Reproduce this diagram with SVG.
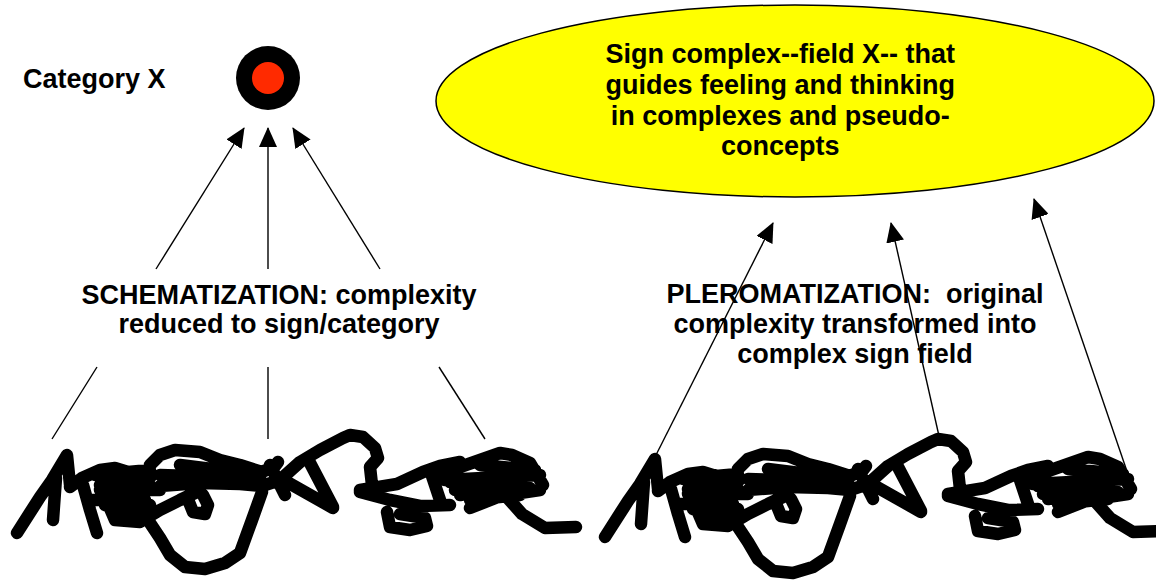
<svg xmlns="http://www.w3.org/2000/svg" width="1156" height="582" viewBox="0 0 1156 582">
<style>
text{font-family:"Liberation Sans",Arial,sans-serif;font-weight:bold;font-size:27px;fill:#000;white-space:pre}
.ln{stroke:#000;stroke-width:1.4;fill:none}
.arr{marker-end:url(#ah)}
.scr{stroke:#000;stroke-width:12.5;fill:none;stroke-linecap:round;stroke-linejoin:round}
</style>
<defs>
<marker id="ah" markerWidth="20" markerHeight="18" refX="19" refY="9" orient="auto" markerUnits="userSpaceOnUse">
<path d="M0,0 L20,9 L0,18 z" fill="#000"/>
</marker>
<path id="scribble" class="scr" d="M17,533 L40,497 L52,480 L67,455 L70,485
M56,478 L53,520
M70,487 L82,478 L100,470 L115,468 L128,472 L145,480
M83,485 L90,510 L97,533
M88,500 L110,500 L130,492 L150,486
M95,475 L150,470 M100,490 L160,490 M105,505 L140,512 M120,480 L125,520
M105,480 L150,478 M110,495 L145,500 M120,510 L150,505
M100,485 L115,520 L140,522 L160,510 L180,500 L197,492
M150,465 L160,455 L175,450 L200,452 L220,460 L240,465 L262,472 L275,466 L278,462
M180,465 L220,470 L247,478 L262,482
M160,486 L200,483 L240,484 L262,486
M160,475 L260,478
M270,465 L285,495
M148,520 L160,538 L170,555 L185,567 L205,569 L225,563 L240,553 L252,520 L262,492
M187,497 L193,512 L205,514 L208,505 L203,495
M262,486 L280,480 L300,462 L320,450 L343,438 L350,435 L363,437 L375,448 L378,458 L370,467 L372,485
M287,482 L333,508
M310,463 L333,507
M360,490 L397,484 L423,472 L440,466 L460,462
M360,492 L390,500 L420,506 L450,505
M387,512 L390,527 L410,530 L427,526 L425,518 L400,514
M443,473 L480,460 L500,453 L512,455 L530,463 L543,485
M450,482 L520,478 M460,495 L510,486 M430,470 L440,500
M445,480 L540,475 M455,490 L530,488 M480,465 L535,470 M470,500 L520,495
M470,508 L503,495 L520,493 L540,490
M505,495 L522,514 L545,528 L576,527"/>
</defs>

<g id="category-label"><text x="23" y="88">Category X</text></g>
<g id="category-x">
<circle cx="268" cy="78" r="32" fill="#000"/>
<circle cx="268" cy="78" r="16" fill="#ff2a00"/>
</g>

<g id="sign-field">
<ellipse cx="795" cy="101" rx="359" ry="96" fill="#ffff00" stroke="#000" stroke-width="1.5"/>
<text text-anchor="middle">
<tspan x="784" y="63">Sign complex--field X-- that</tspan>
<tspan x="784" y="94">guides feeling and thinking</tspan>
<tspan x="784" y="125">in complexes and pseudo-</tspan>
<tspan x="784" y="155">concepts</tspan>
</text>
</g>

<g id="schematization-label">
<text text-anchor="middle"><tspan x="279" y="304">SCHEMATIZATION: complexity</tspan><tspan x="279" y="333">reduced to sign/category</tspan></text>
</g>

<g id="pleromatization-label">
<text text-anchor="middle"><tspan x="855" y="303">PLEROMATIZATION:  original</tspan><tspan x="855" y="333">complexity transformed into</tspan><tspan x="855" y="363">complex sign field</tspan></text>
</g>

<g id="complexity-left"><use href="#scribble"/></g>
<g id="complexity-right"><use href="#scribble" transform="translate(588,4)"/></g>

<g id="connectors">
<line class="ln arr" x1="156" y1="269" x2="244" y2="128"/>
<line class="ln arr" x1="268" y1="269" x2="268" y2="128"/>
<line class="ln arr" x1="380" y1="269" x2="293" y2="128"/>
<line class="ln" x1="97" y1="367" x2="52" y2="439"/>
<line class="ln" x1="268" y1="367" x2="268" y2="439"/>
<line class="ln" x1="439" y1="367" x2="485" y2="439"/>
<line class="ln arr" x1="655" y1="457" x2="773" y2="223"/>
<line class="ln arr" x1="939" y1="436" x2="891" y2="223"/>
<line class="ln arr" x1="1132" y1="486" x2="1034" y2="199"/>
</g>
</svg>
